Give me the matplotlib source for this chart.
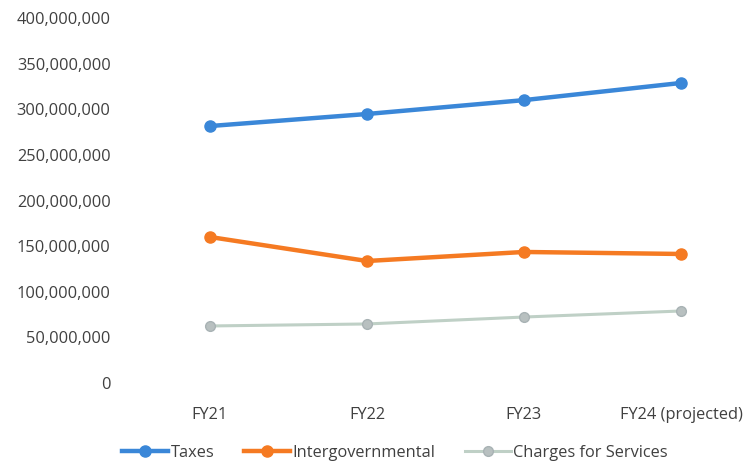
import matplotlib
matplotlib.use("Agg")
import matplotlib.pyplot as plt
from matplotlib.ticker import FuncFormatter

plt.rcParams['font.family'] = ['Open Sans', 'DejaVu Sans']

years = ["FY21", "FY22", "FY23", "FY24 (projected)"]
taxes = [281_600_000, 294_800_000, 310_000_000, 328_800_000]
intergovernmental = [160_000_000, 133_700_000, 143_600_000, 141_400_000]
charges_for_services = [62_500_000, 64_700_000, 72_300_000, 78_900_000]

fig = plt.figure(figsize=(7.51, 4.65), dpi=100)
ax = fig.add_axes([131.5 / 751, (465 - 383) / 465, (751 - 131.5) / 751, 365 / 465])

x = list(range(len(years)))
ax.plot(x, taxes, color="#3a87d8", lw=3.2, marker="o", ms=8, label="Taxes", zorder=3)
ax.plot(x, intergovernmental, color="#f57a22", lw=3.2, marker="o", ms=8,
        label="Intergovernmental", zorder=3)
ax.plot(x, charges_for_services, color="#bfd0c6", lw=2.2, marker="o", ms=7,
        mfc="#b8c0c0", mec="#a8b2b4", label="Charges for Services", zorder=3)

ax.set_xlim(-0.5, 3.446)
ax.set_ylim(0, 400_000_000)
ax.set_yticks(range(0, 400_000_001, 50_000_000))
ax.yaxis.set_major_formatter(FuncFormatter(lambda v, p: f"{int(v):,}"))
ax.set_xticks(x)
ax.set_xticklabels(years)

for s in ax.spines.values():
    s.set_visible(False)
ax.tick_params(axis="both", length=0, labelsize=11.8, colors="#404040")
ax.tick_params(axis="y", pad=15)
ax.tick_params(axis="x", pad=17)

fig.legend(loc="center", bbox_to_anchor=(395 / 751, 12 / 465), ncol=3, frameon=False,
           fontsize=11.8, labelcolor="#404040", handlelength=2.8, handletextpad=0.15,
           columnspacing=1.8)

fig.savefig("out.png", dpi=100)
